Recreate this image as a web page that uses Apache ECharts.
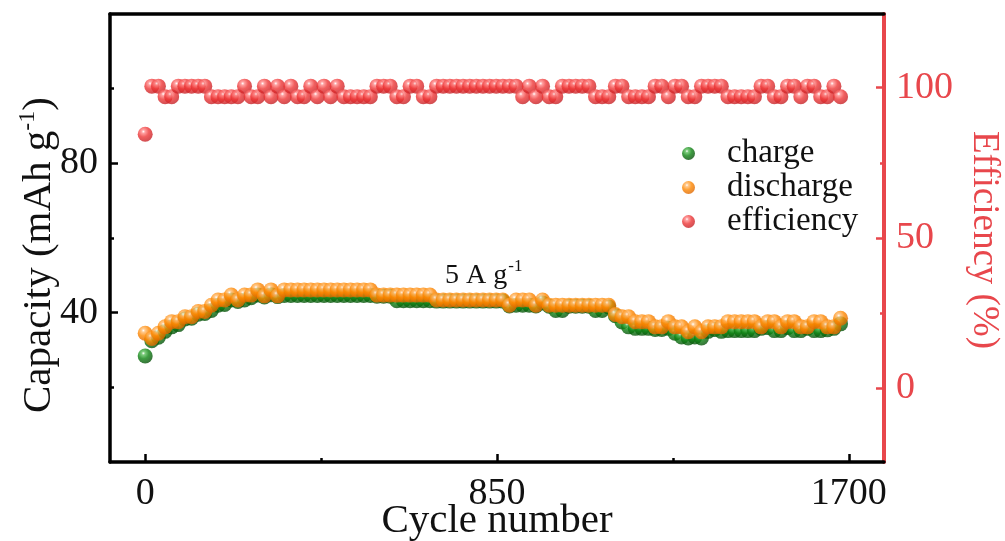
<!DOCTYPE html>
<html>
<head>
<meta charset="utf-8">
<script src="https://cdn.jsdelivr.net/npm/echarts@6/dist/echarts.min.js"></script>
<style>html,body{margin:0;padding:0;background:#fff}#c{width:1005px;height:541px}</style>
</head>
<body>
<div id="c"></div>
<script>
// ---- data ----
const cycles = [0,16,32,48,64,80,96,112,128,144,160,176,192,208,224,240,256,272,288,304,
320,336,352,368,384,400,416,432,448,464,480,496,512,528,544,560,576,592,608,624,
640,656,672,688,704,720,736,752,768,784,800,816,832,848,864,880,896,912,928,944,
960,976,992,1008,1024,1040,1056,1072,1088,1104,1120,1136,1152,1168,1184,1200,1216,1232,1248,1264,
1280,1296,1312,1328,1344,1360,1376,1392,1408,1424,1440,1456,1472,1488,1504,1520,1536,1552,1568,1584,
1600,1616,1632,1648,1664,1680];

const discharge = [34.5,33.1,34.5,36.2,37.6,37.6,38.9,38.9,40.3,40.3,
42.0,43.4,43.4,44.7,43.4,44.7,44.7,46.1,44.5,46.1,
44.5,46.1,46.1,46.1,46.1,46.1,46.1,46.1,46.1,46.1,
46.1,46.1,46.1,46.1,46.1,44.7,44.7,44.7,44.7,44.7,
44.7,44.7,44.7,44.7,43.4,43.4,43.4,43.4,43.4,43.4,
43.4,43.4,43.4,43.4,43.4,42.0,43.4,43.4,43.4,42.0,
43.4,42.0,42.0,42.0,42.0,42.0,42.0,42.0,42.0,42.0,
42.0,39.5,38.9,38.9,37.6,37.6,37.6,36.2,36.2,37.6,
36.2,36.2,34.9,36.2,34.9,36.2,36.2,36.2,37.6,37.6,
37.6,37.6,37.6,36.2,37.6,37.6,36.2,37.6,37.6,36.2,
36.2,37.6,37.6,36.2,36.2,38.5];

const charge = [28.4,32.5,33.4,35.0,36.2,36.8,38.3,38.5,39.6,39.8,
40.6,42.0,42.2,43.4,43.0,43.4,44.0,44.7,44.2,44.8,
44.3,44.6,44.6,44.6,44.6,44.6,44.6,44.6,44.6,44.6,
44.6,44.6,44.6,44.6,44.6,44.4,44.4,44.4,43.2,43.2,
43.2,43.2,43.2,43.2,43.1,43.1,43.1,43.1,43.1,43.1,
43.1,43.1,43.1,43.1,43.1,41.8,42.0,42.0,42.0,41.8,
42.6,41.7,40.6,40.6,41.7,41.7,41.7,41.7,40.6,40.6,
41.5,39.2,37.5,36.2,35.8,35.8,35.8,35.5,35.5,35.8,
34.5,33.5,33.2,33.5,33.2,35.0,35.5,35.0,35.2,35.2,
35.2,35.2,35.2,35.8,36.0,35.2,35.2,36.0,35.2,35.2,
35.8,35.2,35.2,35.4,35.8,37.0];

const U = 100.5, L = 97;
const efficiency = [84.5,U,U,L,L,U,U,U,U,U,
L,L,L,L,L,U,L,L,U,L,
U,L,U,L,L,U,L,U,L,U,
L,L,L,L,L,U,U,U,L,L,
U,U,L,L,U,U,U,U,U,U,
U,U,U,U,U,U,U,L,U,L,
U,L,L,U,U,U,U,U,L,L,
L,U,U,L,L,L,L,U,U,L,
U,U,L,L,U,U,U,U,L,L,
L,L,L,U,U,L,L,U,U,L,
U,U,L,L,U,L];

const xMajorTicks = [0, 850, 1700];
const xMinorTicks = [425, 1275];
const capMajorTicks = [40, 80];
const capMinorTicks = [20, 60, 100];
const effMajorTicks = [0, 50, 100];
const effMinorTicks = [25, 75];

// ---- chart ----
const SERIF = 'Liberation Serif';
const RED = '#e8474c';
function ball(light, base, dark) {
  return new echarts.graphic.RadialGradient(0.38, 0.32, 0.72, [
    {offset: 0, color: '#ffffff'},
    {offset: 0.16, color: light},
    {offset: 0.5, color: base},
    {offset: 1, color: dark}
  ]);
}
const greenBall = ball('#5cc05c', '#0e8412', '#064d09');
const orangeBall = ball('#ffbd73', '#ff8800', '#db6500');
const redBall = ball('#ff8a8a', '#ee3737', '#c21f24');

const pairs = (ys) => cycles.map((c, i) => [c, ys[i]]);
const plain = (v) => String(v);

const chart = echarts.init(document.getElementById('c'), null, {renderer: 'canvas'});
chart.setOption({
  animation: false,
  backgroundColor: '#ffffff',
  title: {
    text: '{a|5 A g}{s|-1}',
    left: 440, top: 253,
    textStyle: {
      rich: {
        a: {fontFamily: SERIF, fontSize: 28, fontWeight: 'normal', color: '#111', lineHeight: 32, verticalAlign: 'bottom'},
        s: {fontFamily: SERIF, fontSize: 17, fontWeight: 'normal', color: '#111', lineHeight: 32, verticalAlign: 'top', padding: [0,0,0,1]}
      }
    }
  },
  legend: {
    orient: 'vertical', left: 677, top: 132,
    itemWidth: 15, itemHeight: 13, itemGap: 1,
    data: ['charge', 'discharge', 'efficiency'],
    textStyle: {fontFamily: SERIF, fontSize: 33, color: '#111', padding: [0,0,0,26]}
  },
  grid: {left: 110, right: 121, top: 14, bottom: 79, containLabel: false, outerBoundsMode: 'none'},
  xAxis: [
    {
      type: 'value', min: -85, max: 1785, position: 'bottom',
      axisLine: {show: true, onZero: false, lineStyle: {color: '#000', width: 3.5}},
      axisTick: {show: true, inside: true, length: 8, lineStyle: {color: '#000', width: 2.5}, customValues: xMajorTicks},
      axisLabel: {show: true, customValues: xMajorTicks, formatter: plain, fontFamily: SERIF, fontSize: 38, color: '#111', margin: 13},
      splitLine: {show: false},
      name: 'Cycle number', nameLocation: 'middle', nameGap: 39, nameMoveOverlap: false,
      nameTextStyle: {fontFamily: SERIF, fontSize: 41, color: '#111', lineHeight: 41}
    },
    {
      type: 'value', min: -85, max: 1785, position: 'bottom',
      axisLine: {show: false, onZero: false},
      axisTick: {show: true, inside: true, length: 4, lineStyle: {color: '#000', width: 2.5}, customValues: xMinorTicks},
      axisLabel: {show: false}, splitLine: {show: false}
    },
    {
      type: 'value', min: -85, max: 1785, position: 'top',
      axisLine: {show: true, onZero: false, lineStyle: {color: '#000', width: 3.5}},
      axisTick: {show: false}, axisLabel: {show: false}, splitLine: {show: false}
    }
  ],
  yAxis: [
    {
      type: 'value', min: 0, max: 120, position: 'left',
      axisLine: {show: true, onZero: false, lineStyle: {color: '#000', width: 3.5}},
      axisTick: {show: true, inside: true, length: 8, lineStyle: {color: '#000', width: 2.5}, customValues: capMajorTicks},
      axisLabel: {show: true, customValues: capMajorTicks, formatter: plain, fontFamily: SERIF, fontSize: 38, color: '#111', margin: 12},
      splitLine: {show: false},
      name: '{a|Capacity (mAh g}{s|-1}{a|)}', nameLocation: 'middle', nameGap: 50, nameRotate: 90, nameMoveOverlap: false,
      nameTextStyle: {
        padding: [0, 34, 0, 0],
        rich: {
          a: {fontFamily: SERIF, fontSize: 41, color: '#111', lineHeight: 44, verticalAlign: 'bottom'},
          s: {fontFamily: SERIF, fontSize: 24, color: '#111', lineHeight: 44, verticalAlign: 'top'}
        }
      }
    },
    {
      type: 'value', min: 0, max: 120, position: 'left',
      axisLine: {show: false, onZero: false},
      axisTick: {show: true, inside: true, length: 4, lineStyle: {color: '#000', width: 2.5}, customValues: capMinorTicks},
      axisLabel: {show: false}, splitLine: {show: false}
    },
    {
      type: 'value', min: -24.5, max: 124.5, position: 'right',
      axisLine: {show: true, onZero: false, lineStyle: {color: RED, width: 4}},
      axisTick: {show: true, inside: true, length: 8, lineStyle: {color: RED, width: 2.5}, customValues: effMajorTicks},
      axisLabel: {show: true, customValues: effMajorTicks, formatter: plain, fontFamily: SERIF, fontSize: 38, color: RED, margin: 12},
      splitLine: {show: false},
      name: 'Efficiency (%)', nameLocation: 'middle', nameGap: 81, nameRotate: -90, nameMoveOverlap: false,
      nameTextStyle: {fontFamily: SERIF, fontSize: 37, color: RED, padding: [0, 0, 0, 4]}
    },
    {
      type: 'value', min: -24.5, max: 124.5, position: 'right',
      axisLine: {show: false, onZero: false},
      axisTick: {show: true, inside: true, length: 4, lineStyle: {color: RED, width: 2.5}, customValues: effMinorTicks},
      axisLabel: {show: false}, splitLine: {show: false}
    }
  ],
  series: [
    {
      name: 'charge', type: 'scatter', xAxisIndex: 0, yAxisIndex: 0,
      symbol: 'circle', symbolSize: 15, data: pairs(charge),
      itemStyle: {color: greenBall}
    },
    {
      name: 'discharge', type: 'scatter', xAxisIndex: 0, yAxisIndex: 0,
      symbol: 'circle', symbolSize: 15, data: pairs(discharge),
      itemStyle: {color: orangeBall}
    },
    {
      name: 'efficiency', type: 'scatter', xAxisIndex: 0, yAxisIndex: 2,
      symbol: 'circle', symbolSize: 15, data: pairs(efficiency),
      itemStyle: {color: redBall}
    }
  ]
});
</script>
</body>
</html>
